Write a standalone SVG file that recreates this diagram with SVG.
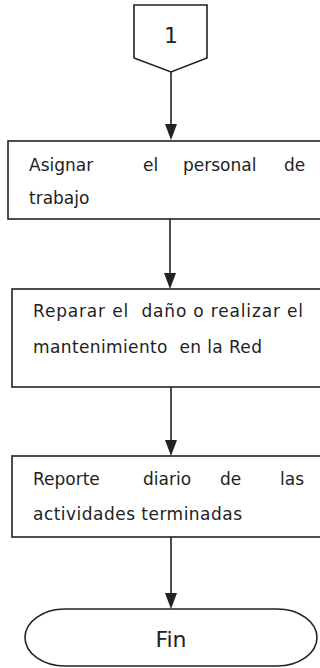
<svg xmlns="http://www.w3.org/2000/svg" width="320" height="668" viewBox="0 0 320 668">
<defs>
<style>
.shape{fill:#fff;stroke:#222;stroke-width:1.6}
.t{font-family:"DejaVu Sans","Liberation Sans",sans-serif;font-size:17px;fill:#222}
.big{font-family:"DejaVu Sans","Liberation Sans",sans-serif;font-size:22px;fill:#222;text-anchor:middle}
.line{stroke:#222;stroke-width:1.6;fill:none}
.head{fill:#222}
</style>
</defs>
<rect width="320" height="668" fill="#fff"/>
<g id="connectors">
<line class="line" x1="171" y1="72" x2="171" y2="128"/>
<path class="head" d="M165,124 L177,124 L171,140 Z"/>
<line class="line" x1="170" y1="219" x2="170" y2="277"/>
<path class="head" d="M164,273 L176,273 L170,289 Z"/>
<line class="line" x1="171" y1="387" x2="171" y2="444"/>
<path class="head" d="M165,440 L177,440 L171,456 Z"/>
<line class="line" x1="171" y1="537" x2="171" y2="597"/>
<path class="head" d="M165,593 L177,593 L171,609 Z"/>
</g>
<g id="node-connector1">
<polygon class="shape" points="134,5 207,5 207,58 171,72 134,58"/>
<text class="big" x="171" y="43">1</text>
</g>
<g id="node-asignar">
<rect class="shape" x="8" y="141" width="330" height="78"/>
<text class="t" x="29" y="171">Asignar</text>
<text class="t" x="143" y="171">el</text>
<text class="t" x="183" y="171">personal</text>
<text class="t" x="284" y="171">de</text>
<text class="t" x="29" y="204">trabajo</text>
</g>
<g id="node-reparar">
<rect class="shape" x="12" y="289" width="330" height="98"/>
<text class="t" x="33" y="317" textLength="270" lengthAdjust="spacing" xml:space="preserve">Reparar el  daño o realizar el</text>
<text class="t" x="33" y="353" textLength="229" lengthAdjust="spacing" xml:space="preserve">mantenimiento  en la Red</text>
</g>
<g id="node-reporte">
<rect class="shape" x="12" y="456" width="330" height="81"/>
<text class="t" x="33" y="485">Reporte</text>
<text class="t" x="143" y="485">diario</text>
<text class="t" x="220" y="485">de</text>
<text class="t" x="280" y="485">las</text>
<text class="t" x="33" y="520" textLength="209" lengthAdjust="spacing">actividades terminadas</text>
</g>
<g id="node-fin">
<rect class="shape" x="25" y="609" width="292" height="57" rx="40" ry="28.5"/>
<text class="big" x="171" y="647">Fin</text>
</g>
</svg>
